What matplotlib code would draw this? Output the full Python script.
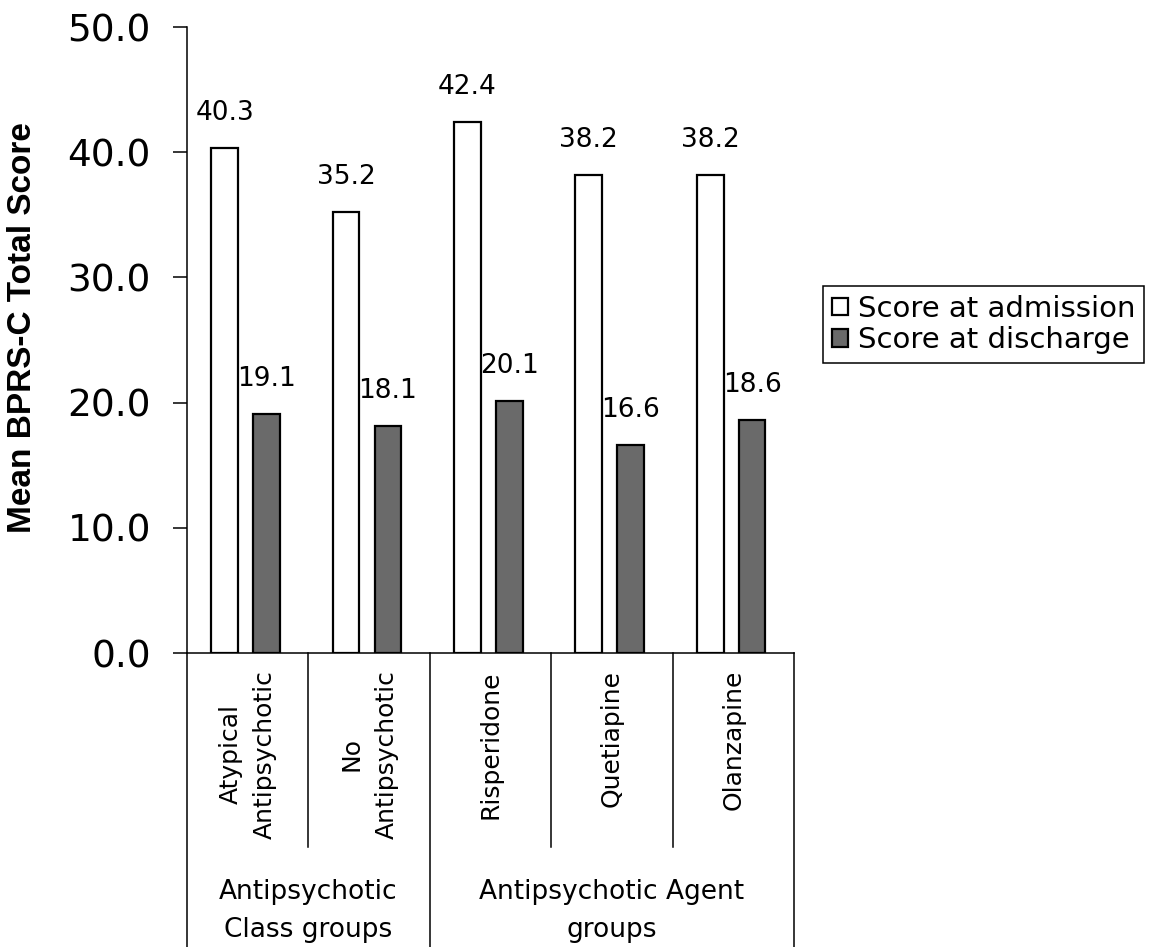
import matplotlib
matplotlib.use("Agg")
import matplotlib.pyplot as plt
import numpy as np

# data
categories = ["Atypical\nAntipsychotic", "No\nAntipsychotic", "Risperidone",
              "Quetiapine", "Olanzapine"]
admission = [40.3, 35.2, 42.4, 38.2, 38.2]
discharge = [19.1, 18.1, 20.1, 16.6, 18.6]
groups = ["Antipsychotic\nClass groups", "Antipsychotic Agent\ngroups"]
group_spans = [(0, 2), (2, 5)]
yticks = [0, 10, 20, 30, 40, 50]

plt.rcParams['font.family'] = ['DejaVu Sans']

W, H = 1156, 947
fig = plt.figure(figsize=(W / 100, H / 100), dpi=100)
left, right, bottom, top = 187, 794, 653, 27
ax = fig.add_axes([left / W, 1 - bottom / H, (right - left) / W, (bottom - top) / H])

x = np.arange(len(categories))
bw = 0.22
b1 = ax.bar(x - 0.19, admission, bw, color="white", edgecolor="black",
            linewidth=1.6, label="Score at admission")
b2 = ax.bar(x + 0.155, discharge, bw, color="#6a6a6a", edgecolor="black",
            linewidth=1.6, label="Score at discharge")

for bars, vals in ((b1, admission), (b2, discharge)):
    for rect, v in zip(bars, vals):
        ax.annotate(f"{v:.1f}", (rect.get_x() + rect.get_width() / 2, v),
                    xytext=(0, 16), textcoords="offset points",
                    ha="center", va="bottom", fontsize=19)

ax.set_xlim(-0.5, len(categories) - 0.5)
ax.set_ylim(0, 50)
ax.set_yticks(yticks)
ax.set_yticklabels([f"{t:.1f}" for t in yticks], fontsize=27)
ax.tick_params(axis="y", direction="out", length=10, width=1.1, pad=16)
ax.set_xticks([])
for s in ("top", "right"):
    ax.spines[s].set_visible(False)
for s in ("left", "bottom"):
    ax.spines[s].set_linewidth(1.1)

ax.set_ylabel("Mean BPRS-C Total Score", fontsize=24, fontweight="bold",
              family="Liberation Sans")
ax.yaxis.set_label_coords(-0.245, 0.52)

# category table below the axis
ah = bottom - top
inner_bot = -(847 - bottom) / ah
outer_bot = -(H + 5 - bottom) / ah
tr = ax.get_xaxis_transform()
bounds = np.arange(len(categories) + 1) - 0.5
outer = {-0.5, 1.5, len(categories) - 0.5}
for b in bounds:
    yb = outer_bot if b in outer else inner_bot
    ax.plot([b, b], [0, yb], color="black", lw=1.1, transform=tr, clip_on=False)

for i, lab in enumerate(categories):
    ax.text(i, -(670 - bottom) / ah, lab, transform=tr, rotation=90,
            ha="center", va="top", multialignment="center",
            fontsize=18, linespacing=1.55)

for lab, (a, b) in zip(groups, group_spans):
    ax.text((a + b - 1) / 2, -(911 - bottom) / ah, lab, transform=tr,
            ha="center", va="center", multialignment="center",
            fontsize=19, linespacing=1.6)

leg = fig.legend(handles=[b1, b2], loc="upper left",
                 bbox_to_anchor=(823 / W, 1 - 286 / H), fontsize=21,
                 frameon=True, fancybox=False, framealpha=1, edgecolor="black",
                 borderpad=0.3, borderaxespad=0, labelspacing=0.12,
                 handlelength=0.55, handleheight=0.55, handletextpad=0.35)
leg.get_frame().set_linewidth(1.1)

fig.savefig("out.png", dpi=100)
